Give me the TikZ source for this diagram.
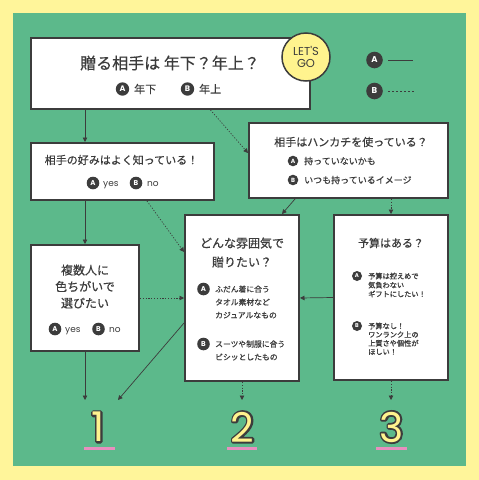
\documentclass[tikz,border=0pt]{standalone}
\usepackage{fontspec}
\setmainfont{Noto Sans CJK JP}[FakeBold=0.5]
\newfontfamily\jpb{Noto Sans CJK JP}[FakeBold=1.2]
\newfontfamily\pop{Poppins}
\usetikzlibrary{arrows.meta}
\definecolor{bgy}{HTML}{FFF59A}
\definecolor{grn}{HTML}{5CB98B}
\definecolor{dk}{HTML}{3C3C3C}
\definecolor{pnk}{HTML}{E88FBF}
\definecolor{numy}{HTML}{FFF38E}
\newcommand\strokelayer[1]{\special{pdf:literal direct 1 Tr 3.6 w 1 j}#1\special{pdf:literal direct 0 Tr 0.4 w 0 j}}
\tikzset{
  box/.style={draw=dk, line width=2pt, fill=white, inner sep=0pt},
  badge/.style={circle, fill=dk, text=white, inner sep=0pt, font=\pop\bfseries\fontsize{#1}{#1}\selectfont},
  badge/.default=7,
  txt/.style={text=dk, inner sep=0pt},
  lat/.style={text=dk, inner sep=0pt, anchor=base west, font=\pop\fontsize{9}{9}\selectfont},
  conn/.style={draw=dk, line width=0.7pt, -{Triangle[length=4.5pt,width=4.5pt]}},
  dotc/.style={conn, dash pattern=on 1.2pt off 1.6pt},
  uline/.style={draw=pnk, line width=3pt},
  numtxt/.style={inner sep=0pt, font=\pop\fontsize{41}{41}\selectfont},
}
\begin{document}
\begin{tikzpicture}[x=1pt,y=-1pt]
\useasboundingbox (0,0) rectangle (479,480);
\fill[bgy] (0,0) rectangle (479,480);
\fill[grn] (13,13) rectangle (466,466);

% top box
\node[box, minimum width=279pt, minimum height=71pt] (top) at (170.5,73.5) {};
\node[txt, font=\fontsize{16}{16}\selectfont] (ttl) at (170,63) {贈る相手は 年下？年上？};
\node[badge=8, minimum size=13.4pt] (tA) at (122.5,89) {A};
\node[txt, anchor=west, font=\fontsize{11}{11}\selectfont] (tAt) at (134,89) {年下};
\node[badge=8, minimum size=13.4pt] (tB) at (187.5,89) {B};
\node[txt, anchor=west, font=\fontsize{11}{11}\selectfont] (tBt) at (199,89) {年上};

% let's go
\node[circle, draw=dk, line width=1.5pt, fill=numy, minimum size=48pt, inner sep=0pt, align=center, text=dk, font=\pop\fontsize{11.5}{12.5}\selectfont] (go) at (306,57) {LET'S\\GO};

% legend
\node[badge=8.5, minimum size=16.6pt] (lA) at (374.5,60) {A};
\coordinate (lAe) at (413,60);
\draw[dk, line width=0.7pt] ([xshift=5pt]lA.east) -- (lAe);
\node[badge=8.5, minimum size=16.6pt] (lB) at (374.5,91) {B};
\coordinate (lBe) at (415,91);
\draw[dk, line width=0.7pt, dash pattern=on 2pt off 2pt] ([xshift=5pt]lB.east) -- (lBe);

% box 2
\node[box, minimum width=183pt, minimum height=57pt] (b2) at (122.5,171.5) {};
\node[txt, font=\fontsize{11}{11}\selectfont] (b2t) at (121.5,160) {相手の好みはよく知っている！};
\node[badge=7, minimum size=12.6pt] (b2A) at (93,183) {A};
\node[lat] (b2At) at (103,186) {yes};
\node[badge=7, minimum size=12.6pt] (b2B) at (136,183) {B};
\node[lat] (b2Bt) at (147,186) {no};

% box 3
\node[box, minimum width=199pt, minimum height=75pt] (b3) at (348.5,160.5) {};
\node[txt, font=\fontsize{11}{11}\selectfont] (b3t) at (351,142) {相手はハンカチを使っている？};
\node[badge=6, minimum size=10.6pt] (b3A) at (293,161) {A};
\node[txt, anchor=west, font=\fontsize{9}{9}\selectfont] (b3At) at (304,161) {持っていないかも};
\node[badge=6, minimum size=10.6pt] (b3B) at (293,180) {B};
\node[txt, anchor=west, font=\fontsize{9}{9}\selectfont] (b3Bt) at (304,180) {いつも持っているイメージ};

% box 4
\node[box, minimum width=108pt, minimum height=106pt] (b4) at (85,298) {};
\node[txt, align=center, font=\fontsize{12}{16.5}\selectfont] (b4t) at (85,286.5) {複数人に\\色ちがいで\\選びたい};
\node[badge=7, minimum size=12.6pt] (b4A) at (55,329) {A};
\node[lat] (b4At) at (65,332) {yes};
\node[badge=7, minimum size=12.6pt] (b4B) at (98.5,329) {B};
\node[lat] (b4Bt) at (109,332) {no};

% box 5
\node[box, minimum width=114pt, minimum height=166pt] (b5) at (242,298) {};
\node[txt, align=center, font=\fontsize{12}{19}\selectfont] (b5t) at (242,252.5) {どんな雰囲気で\\贈りたい？};
\node[badge=7, minimum size=12.6pt] (b5A) at (203.5,289) {A};
\node[txt, anchor=west, align=left, font=\fontsize{7.8}{13}\selectfont] (b5At) at (215,302) {ふだん着に合う\\タオル素材など\\カジュアルなもの};
\node[badge=7, minimum size=12.6pt] (b5B) at (203.5,344) {B};
\node[txt, anchor=west, align=left, font=\fontsize{7.8}{13}\selectfont] (b5Bt) at (215,350.5) {スーツや制服に合う\\ビシッとしたもの};

% box 6
\node[box, minimum width=114pt, minimum height=165pt] (b6) at (391,297.5) {};
\node[txt, font=\fontsize{11}{11}\selectfont] (b6t) at (391,243) {予算はある？};
\node[badge=5.5, minimum size=10pt] (b6A) at (357,276) {A};
\node[txt, anchor=west, align=left, font=\jpb\fontsize{7.2}{9}\selectfont] (b6At) at (368,285) {予算は控えめで\\気負わない\\ギフトにしたい！};
\node[badge=5.5, minimum size=10pt] (b6B) at (357,326) {B};
\node[txt, anchor=west, align=left, font=\jpb\fontsize{7.2}{8.6}\selectfont] (b6Bt) at (368,338.8) {予算なし！\\ワンランク上の\\上質さや個性が\\ほしい！};

% end coordinates
\coordinate (e1a) at (85,400);
\coordinate (e1b) at (118,400);
\coordinate (e2) at (242,400);
\coordinate (e3) at (391,400);

% connectors
\draw[conn] (top.south -| b4.north) -- (b2.north -| b4.north);
\draw[dotc] ([xshift=40pt]top.south) -- ([yshift=7.5pt]b3.west);
\draw[conn] (b2.south -| b4.north) -- (b4.north);
\draw[dotc] ([xshift=24.5pt]b2.south) -- ([yshift=46pt]b5.west);
\draw[dotc] (b4.east) -- (b5.west);
\draw[conn] ([xshift=-53.5pt]b3.south) -- ([xshift=40pt]b5.north);
\draw[dotc] (b3.south -| b6.north) -- (b6.north);
\draw[conn] (b6.west) -- (b5.east);
\draw[conn] (b4.south) -- (e1a);
\draw[conn] ([yshift=-25pt]b5.west) -- (e1b);
\draw[dotc] (b5.south) -- (e2);
\draw[dotc] (b6.south) -- (e3);

% underlines
\draw[uline] (84,448) -- (115,448);
\draw[uline] (227,448) -- (257,448);
\draw[uline] (376,448) -- (407,448);

% numbers
\node[numtxt, text=dk] (n1o) at (98,427) {\strokelayer{1}};
\node[numtxt, text=numy] (n1) at (98,427) {1};
\node[numtxt, text=dk] (n2o) at (242.5,427) {\strokelayer{2}};
\node[numtxt, text=numy] (n2) at (242.5,427) {2};
\node[numtxt, text=dk] (n3o) at (391.5,427) {\strokelayer{3}};
\node[numtxt, text=numy] (n3) at (391.5,427) {3};
\end{tikzpicture}
\end{document}
